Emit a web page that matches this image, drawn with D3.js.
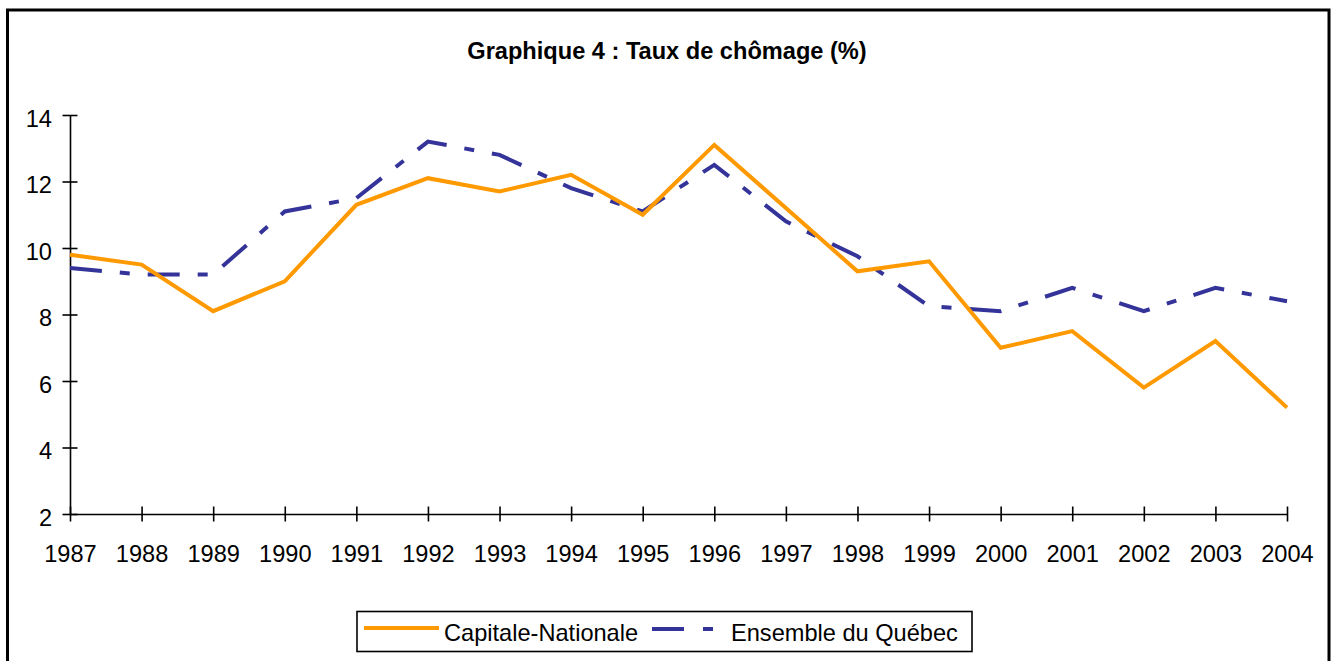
<!DOCTYPE html>
<html>
<head>
<meta charset="utf-8">
<script src="https://cdn.jsdelivr.net/npm/d3@7"></script>
<style>
  html, body { margin: 0; padding: 0; background: #fff; }
  svg { display: block; font-family: Arial, "Liberation Sans", sans-serif; }
</style>
</head>
<body>
<svg id="chart" width="1333" height="661"></svg>
<script>
const title = "Graphique 4 : Taux de chômage (%)";
const years = ["1987","1988","1989","1990","1991","1992","1993","1994","1995","1996","1997","1998","1999","2000","2001","2002","2003","2004"];
const capitaleNationale = [9.8, 9.5, 8.1, 9.0, 11.3, 12.1, 11.7, 12.2, 11.0, 13.1, 11.2, 9.3, 9.6, 7.0, 7.5, 5.8, 7.2, 5.2];
const ensembleQuebec    = [9.4, 9.2, 9.2, 11.1, 11.5, 13.2, 12.8, 11.8, 11.1, 12.5, 10.8, 9.75, 8.25, 8.1, 8.8, 8.1, 8.8, 8.4];
const yTicks = [2, 4, 6, 8, 10, 12, 14];
const seriesNames = ["Capitale-Nationale", "Ensemble du Québec"];

const svg = d3.select("#chart");
const FONT = "Arial, 'Liberation Sans', sans-serif";

// outer frame
svg.append("rect").attr("x", 7.5).attr("y", 10).attr("width", 1321.5).attr("height", 700)
  .attr("fill", "none").attr("stroke", "#000").attr("stroke-width", 3);

// title
svg.append("text").attr("x", 667).attr("y", 59).attr("text-anchor", "middle")
  .attr("font-weight", "bold").attr("font-size", 23.6).attr("fill", "#000").text(title);

const x = d3.scalePoint().domain(years).range([70, 1287]);
const y = d3.scaleLinear().domain([2, 14]).range([514, 115]);

// y axis
const yAxis = d3.axisLeft(y).tickValues(yTicks).tickSize(0).tickPadding(0).tickFormat(d3.format("d"));
const gy = svg.append("g").attr("transform", "translate(70,0)").call(yAxis);
gy.select(".domain").attr("stroke", "#000").attr("stroke-width", 1.6);
gy.selectAll(".tick line").remove();
gy.selectAll(".tick").append("line").attr("x1", -7.5).attr("x2", 7.5)
  .attr("stroke", "#000").attr("stroke-width", 1.6);
gy.selectAll(".tick text").attr("x", -18).attr("dy", "0.48em")
  .attr("font-size", 23.6).attr("font-family", FONT).attr("fill", "#000");

// x axis
const xAxis = d3.axisBottom(x).tickSize(0).tickPadding(0);
const gx = svg.append("g").attr("transform", "translate(0,514)").call(xAxis);
gx.select(".domain").attr("stroke", "#000").attr("stroke-width", 1.6);
gx.selectAll(".tick line").remove();
gx.selectAll(".tick").append("line").attr("y1", -7.5).attr("y2", 7.5)
  .attr("stroke", "#000").attr("stroke-width", 1.6);
gx.selectAll(".tick text").attr("y", 48).attr("dy", 0)
  .attr("font-size", 23.6).attr("font-family", FONT).attr("fill", "#000");

const line = d3.line().x((d, i) => x(years[i])).y(d => y(d));

svg.append("path").datum(ensembleQuebec).attr("d", line)
  .attr("fill", "none").attr("stroke", "#333399").attr("stroke-width", 4)
  .attr("stroke-dasharray", "32,18,10,18").attr("stroke-linejoin", "miter");

svg.append("path").datum(capitaleNationale).attr("d", line)
  .attr("fill", "none").attr("stroke", "#FF9900").attr("stroke-width", 4)
  .attr("stroke-linejoin", "miter");

// legend
const lg = svg.append("g");
lg.append("rect").attr("x", 357).attr("y", 611.5).attr("width", 615).attr("height", 40)
  .attr("fill", "#fff").attr("stroke", "#000").attr("stroke-width", 1.6);
lg.append("line").attr("x1", 364).attr("x2", 439).attr("y1", 628).attr("y2", 628)
  .attr("stroke", "#FF9900").attr("stroke-width", 4);
lg.append("text").attr("x", 444).attr("y", 641).attr("font-size", 23.6).attr("fill", "#000").text(seriesNames[0]);
lg.append("line").attr("x1", 652).attr("x2", 713).attr("y1", 629).attr("y2", 629)
  .attr("stroke", "#333399").attr("stroke-width", 4).attr("stroke-dasharray", "32,19,10,19");
lg.append("text").attr("x", 731).attr("y", 641).attr("font-size", 23.6).attr("fill", "#000").text(seriesNames[1]);
</script>
</body>
</html>
